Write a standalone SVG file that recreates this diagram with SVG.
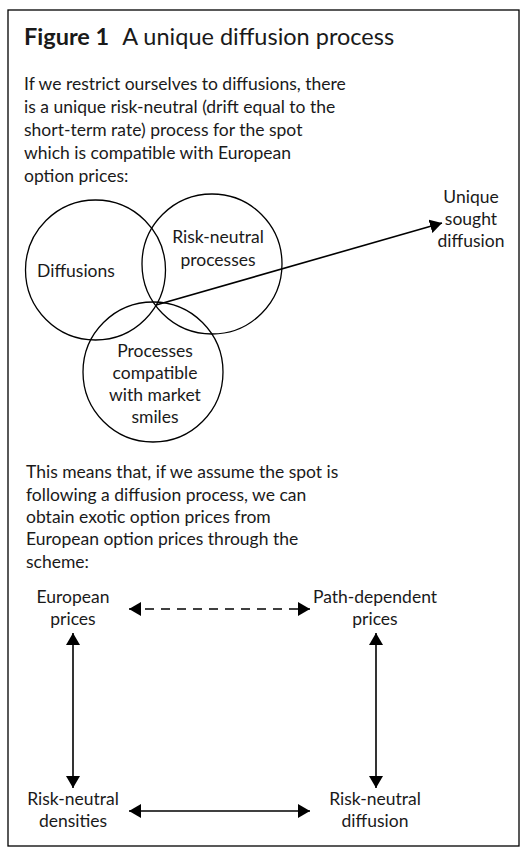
<svg xmlns="http://www.w3.org/2000/svg" width="525" height="850" viewBox="0 0 525 850">
<style>
text{font-family:Lato,"Open Sans","Liberation Sans",sans-serif;fill:#1a1a1a;font-size:17.5px}
.t{font-size:23.5px}
.c{text-anchor:middle}
.ln{stroke:#000;stroke-width:1.6;fill:none}
.circ{stroke:#000;stroke-width:1.3;fill:none}
</style>
<defs>
<marker id="ah" viewBox="0 0 12 14" refX="12" refY="7" markerWidth="12" markerHeight="14" markerUnits="userSpaceOnUse" orient="auto-start-reverse">
<path d="M0,0 L12,7 L0,14 Z" fill="#000"/>
</marker>
</defs>
<rect x="8" y="10" width="511" height="836" fill="#fff" stroke="#000" stroke-width="1.3"/>
<g id="title">
<text class="t" x="24" y="45"><tspan font-weight="bold">Figure 1</tspan><tspan dx="13">A unique diffusion process</tspan></text>
</g>
<g id="intro">
<text x="24" y="90">If we restrict ourselves to diffusions, there</text>
<text x="24" y="113">is a unique risk-neutral (drift equal to the</text>
<text x="24" y="136">short-term rate) process for the spot</text>
<text x="24" y="159">which is compatible with European</text>
<text x="24" y="182">option prices:</text>
</g>
<g id="diffusions">
<circle class="circ" cx="95.5" cy="270" r="70"/>
<text class="c" x="76" y="277">Diffusions</text>
</g>
<g id="risk-neutral">
<circle class="circ" cx="212" cy="264" r="70"/>
<text class="c" x="218" y="243">Risk-neutral</text>
<text class="c" x="218" y="266">processes</text>
</g>
<g id="compatible">
<circle class="circ" cx="153" cy="372" r="70"/>
<text class="c" x="155" y="357">Processes</text>
<text class="c" x="155" y="379">compatible</text>
<text class="c" x="155" y="401">with market</text>
<text class="c" x="155" y="423">smiles</text>
</g>
<g id="unique">
<text class="c" x="471" y="203">Unique</text>
<text class="c" x="471" y="225">sought</text>
<text class="c" x="471" y="247">diffusion</text>
</g>
<g id="middle">
<text x="26" y="478">This means that, if we assume the spot is</text>
<text x="26" y="501">following a diffusion process, we can</text>
<text x="26" y="523">obtain exotic option prices from</text>
<text x="26" y="545">European option prices through the</text>
<text x="26" y="568">scheme:</text>
</g>
<g id="european">
<text class="c" x="73" y="603">European</text>
<text class="c" x="73" y="625">prices</text>
</g>
<g id="path-dependent">
<text class="c" x="375" y="603">Path-dependent</text>
<text class="c" x="375" y="625">prices</text>
</g>
<g id="densities">
<text class="c" x="73" y="805">Risk-neutral</text>
<text class="c" x="73" y="827">densities</text>
</g>
<g id="diffusion">
<text class="c" x="375" y="805">Risk-neutral</text>
<text class="c" x="375" y="827">diffusion</text>
</g>
<g id="connectors">
<line class="ln" x1="156" y1="305" x2="442" y2="223" marker-end="url(#ah)"/>
<line class="ln" x1="129" y1="609" x2="310" y2="609" stroke-dasharray="9,7" marker-start="url(#ah)" marker-end="url(#ah)"/>
<line class="ln" x1="73" y1="633" x2="73" y2="788" marker-start="url(#ah)" marker-end="url(#ah)"/>
<line class="ln" x1="376" y1="633" x2="376" y2="788" marker-start="url(#ah)" marker-end="url(#ah)"/>
<line class="ln" x1="129" y1="811" x2="310" y2="811" marker-start="url(#ah)" marker-end="url(#ah)"/>
</g>
</svg>
